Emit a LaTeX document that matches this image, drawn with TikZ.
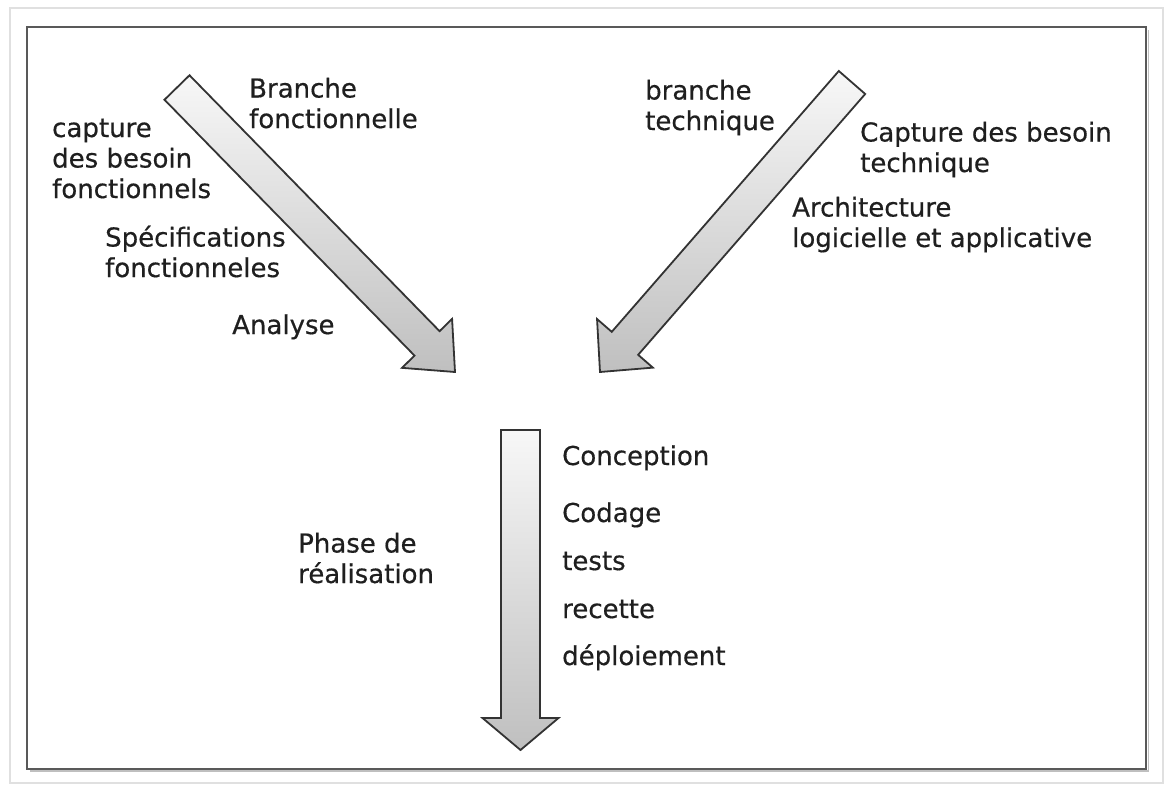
\documentclass[tikz,border=0pt]{standalone}
\usepackage{fontspec}
\setmainfont[FakeBold=0.5]{DejaVu Sans}
\usetikzlibrary{calc}
\newcommand{\blockarrow}[5]{% #1 tail, #2 tip, #3 half shaft, #4 half head, #5 head length
  \coordinate (#1-h) at ($(#2)!#5!(#1)$);
  \path[barrow] ($(#1)!#3!90:(#2)$) -- ($(#1-h)!#3!90:(#2)$) -- ($(#1-h)!#4!90:(#2)$) -- (#2)
     -- ($(#1-h)!#4!-90:(#2)$) -- ($(#1-h)!#3!-90:(#2)$) -- ($(#1)!#3!-90:(#2)$) -- cycle;}
\begin{document}
\begin{tikzpicture}[x=1pt,y=-1pt,
  lbl/.style={anchor=base west, inner sep=0pt, align=left,
    font=\fontsize{26}{30.5}\selectfont, text=black!88},
  barrow/.style={draw=black!80, line width=1.8pt, top color=gray!6, bottom color=gray!50, line join=miter},
  frame/.style={draw=black!65, line width=2pt},
  shadowline/.style={draw=black!12, line width=1.5pt}]
\useasboundingbox (0,0) rectangle (1167,787);
\fill[white] (0,0) rectangle (1167,787);
% faint page shadow
\draw[shadowline] (10,8) rectangle (1163,783);
\draw[draw=black!25, line width=1.5pt] (30,771) -- (1148.5,771) -- (1148.5,30);
% frame
\draw[frame] (27,27) rectangle (1146,769);

% arrows
\coordinate (Ltail) at (177,87.5);
\coordinate (Ltip) at (455,372);
\coordinate (Rtail) at (852,82.5);
\coordinate (Rtip) at (600,372);
\coordinate (Vtail) at (520.5,430);
\coordinate (Vtip) at (520.5,750);
\blockarrow{Ltail}{Ltip}{17.5pt}{35pt}{40pt}
\blockarrow{Rtail}{Rtip}{17.5pt}{37pt}{38pt}
\blockarrow{Vtail}{Vtip}{19.5pt}{38pt}{32pt}

% labels left branch (base = baseline of last line)
\node[lbl] (cap) at (52,198) {capture\\des besoin\\fonctionnels};
\node[lbl] (bf) at (249,128) {Branche\\fonctionnelle};
\node[lbl] (spec) at (105,277) {Spécifications\\fonctionneles};
\node[lbl] (ana) at (232,334) {Analyse};
% labels right branch
\node[lbl] (bt) at (645,130) {branche\\technique};
\node[lbl] (cbt) at (860,172) {Capture des besoin\\technique};
\node[lbl] (arch) at (792,247) {Architecture\\logicielle et applicative};
% labels realisation
\node[lbl] (phase) at (298,583) {Phase de\\réalisation};
\node[lbl] (conc) at (562,465) {Conception};
\node[lbl] (cod) at (562,522) {Codage};
\node[lbl] (tests) at (562,570) {tests};
\node[lbl] (rec) at (562,618) {recette};
\node[lbl] (dep) at (562,665) {déploiement};
\end{tikzpicture}
\end{document}
